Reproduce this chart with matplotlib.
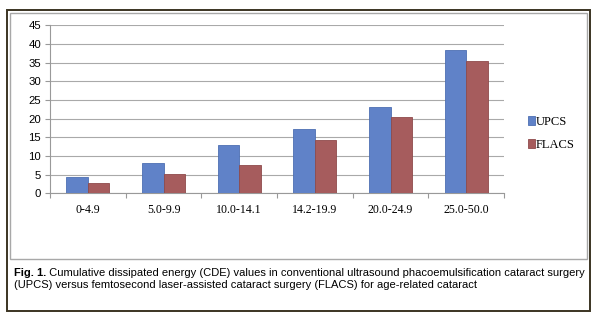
import numpy as np
import matplotlib.pyplot as plt
from matplotlib.patches import Rectangle

# CDE ranges and mean values per group
categories = ["0-4.9", "5.0-9.9", "10.0-14.1", "14.2-19.9", "20.0-24.9", "25.0-50.0"]
upcs = [4.3, 8.2, 13.0, 17.3, 23.0, 38.4]
flacs = [2.7, 5.1, 7.5, 14.2, 20.4, 35.4]
yticks = [0, 5, 10, 15, 20, 25, 30, 35, 40, 45]

caption_bold = "Fig. 1."
caption_rest = (" Cumulative dissipated energy (CDE) values in conventional ultrasound "
                "phacoemulsification cataract surgery")
caption_line2 = ("(UPCS) versus femtosecond laser-assisted cataract surgery (FLACS) "
                 "for age-related cataract")

W, H = 600, 323
fig = plt.figure(figsize=(W / 100, H / 100), dpi=100)
fig.patch.set_facecolor("white")


def fx(px):
    return px / W


def fy(py):
    return 1 - py / H


# frames: dark outer box, light inner chart box
fig.add_artist(Rectangle((fx(7), fy(311)), fx(583), (311 - 10) / H,
                         transform=fig.transFigure, fill=False,
                         edgecolor="#3b3422", linewidth=1.4))
fig.add_artist(Rectangle((fx(10), fy(259)), fx(577), (259 - 13) / H,
                         transform=fig.transFigure, fill=False,
                         edgecolor="#a8a8a8", linewidth=1.0))

ax = fig.add_axes([fx(50), fy(193.3), fx(504 - 50), (193.3 - 25.3) / H])

x = np.arange(len(categories))
bw = 0.285
ax.bar(x - bw / 2, upcs, bw, color="#6082c8", edgecolor="#4d6fb3",
       linewidth=0.6, label="UPCS", zorder=3)
ax.bar(x + bw / 2, flacs, bw, color="#a65c5d", edgecolor="#8f4a4b",
       linewidth=0.6, label="FLACS", zorder=3)

ax.set_xlim(-0.5, len(categories) - 0.5)
ax.set_ylim(0, 45)
ax.set_yticks(yticks)
ax.yaxis.grid(True, color="#a9a9a9", linewidth=0.8, zorder=0)

ax.set_xticks(x)
ax.set_xticklabels(categories, fontfamily="Liberation Serif", fontsize=8.6)
ax.set_xticks(np.arange(len(categories) + 1) - 0.5, minor=True)
ax.tick_params(axis="x", which="major", length=0, pad=8)
ax.tick_params(axis="x", which="minor", length=3.5, color="#999999", width=0.8)
ax.tick_params(axis="y", length=3.5, color="#999999", width=0.8, pad=3,
               labelsize=8.2)
for lab in ax.get_yticklabels():
    lab.set_fontfamily("Liberation Sans")

for side in ["top", "right"]:
    ax.spines[side].set_visible(False)
for side in ["left", "bottom"]:
    ax.spines[side].set_color("#999999")
    ax.spines[side].set_linewidth(0.8)

leg = ax.legend(loc="upper left", bbox_to_anchor=(fx(528), fy(116)),
                bbox_transform=fig.transFigure, frameon=False,
                prop={"family": "Liberation Serif", "size": 9},
                handlelength=0.55, handleheight=0.7, handletextpad=0.1,
                labelspacing=0.85, borderpad=0, borderaxespad=0)

# caption under the chart box
cap_size = 8.0
t = fig.text(fx(14), fy(273), caption_bold, fontfamily="Liberation Sans",
             fontweight="bold", fontsize=cap_size, va="center", ha="left")
fig.canvas.draw()
bb = t.get_window_extent()
fig.text(bb.x1 / W, fy(273), caption_rest, fontfamily="Liberation Sans",
         fontsize=cap_size, va="center", ha="left")
fig.text(fx(14), fy(284.5), caption_line2, fontfamily="Liberation Sans",
         fontsize=cap_size, va="center", ha="left")

fig.savefig("out.png", dpi=100)
